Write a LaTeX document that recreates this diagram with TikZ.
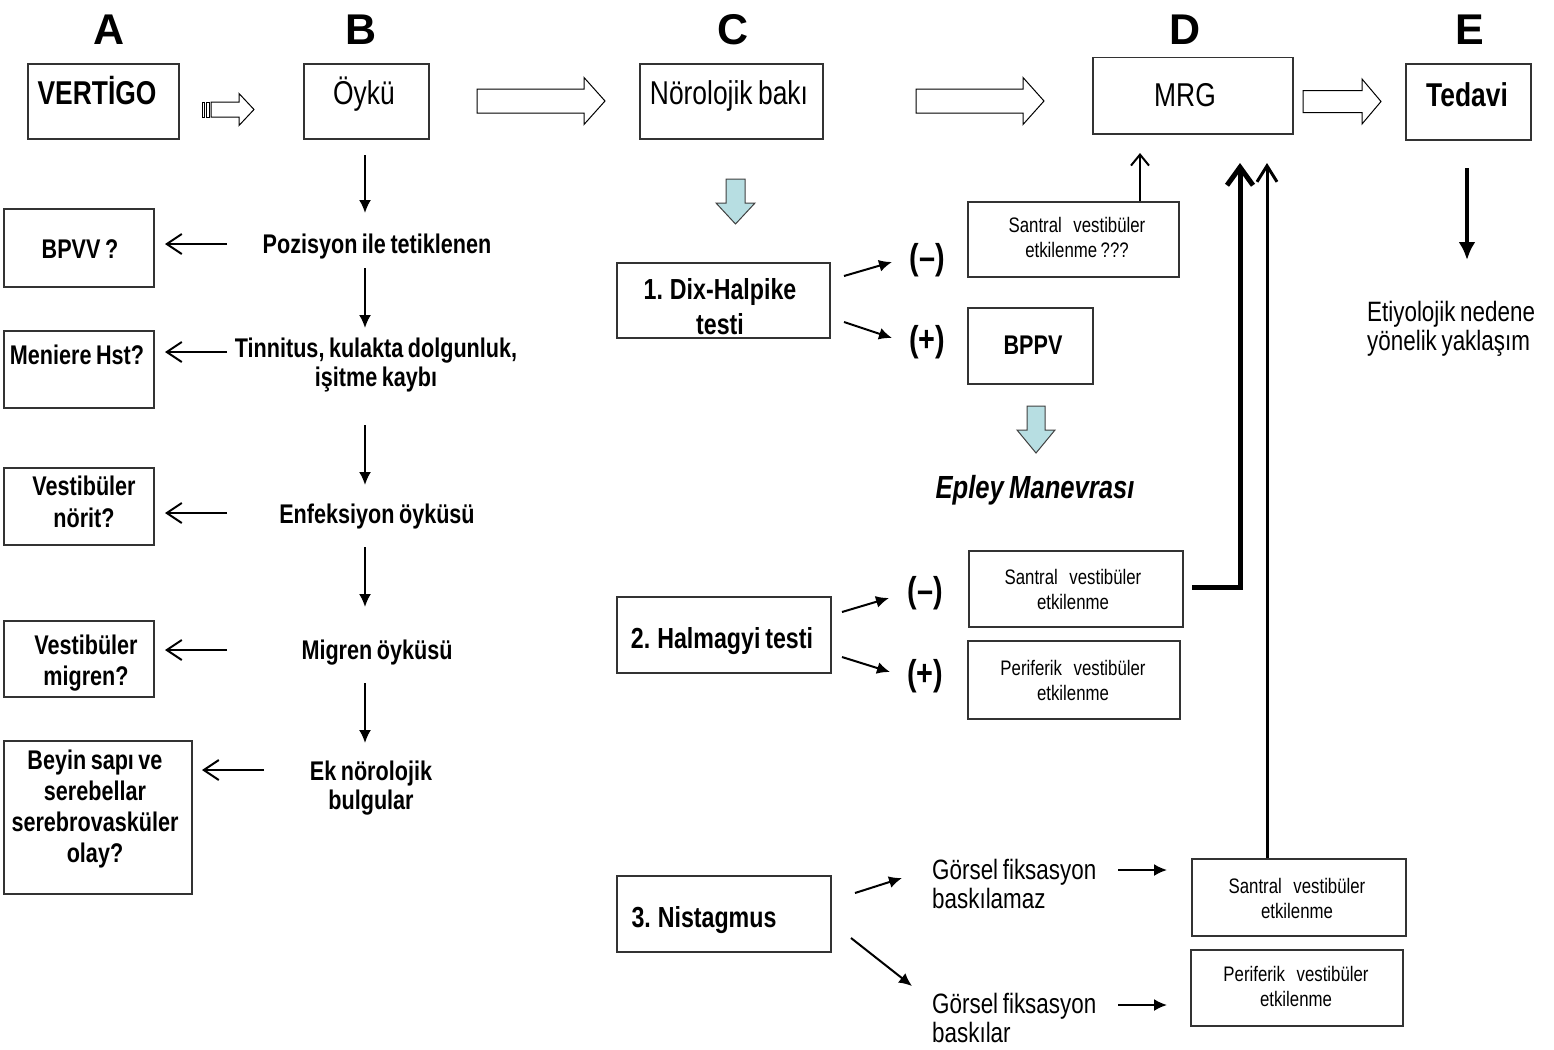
\documentclass[tikz,border=0pt]{standalone}
\usepackage{fontspec}
\setmainfont{Liberation Sans}[FakeStretch=0.8,WordSpace=0.75]
\newfontfamily\myWide{Liberation Sans}
\usetikzlibrary{arrows.meta}
\definecolor{lblue}{HTML}{B7DEE2}
\newcommand\myLet{\myWide\bfseries\fontsize{43}{48}\selectfont}
\newcommand\myTop{\fontsize{33}{38}\selectfont}
\newcommand\myTopB{\bfseries\fontsize{33}{38}\selectfont}
\newcommand\myB{\bfseries\fontsize{27}{31}\selectfont}
\newcommand\myC{\bfseries\fontsize{29}{35}\selectfont}
\newcommand\myS{\fontsize{21}{25}\selectfont}
\newcommand\myG{\fontsize{28}{29.5}\selectfont}
\newcommand\myEp{\bfseries\itshape\fontsize{32}{36}\selectfont}
\newcommand\myPM{\bfseries\fontsize{36}{40}\selectfont}
\newcommand\myGap{\hspace{0.55em}}
\newcommand\hblk[6]{\draw[blk] (#1,#4-#5) -- (#2,#4-#5) -- (#2,#4-#6) -- (#3,#4) -- (#2,#4+#6) -- (#2,#4+#5) -- (#1,#4+#5) -- cycle;}
\newcommand\vblk[6]{\draw[bblk] (#1-#5,#2) -- (#1+#5,#2) -- (#1+#5,#3) -- (#1+#6,#3) -- (#1,#4) -- (#1-#6,#3) -- (#1-#5,#3) -- cycle;}
\begin{document}
\begin{tikzpicture}[x=1pt,y=-1pt,
  box/.style={draw=black!80,line width=1.5pt,inner sep=0pt,anchor=north west},
  tLet/.style={font=\myLet,inner sep=0pt,text height=32.3pt,text depth=1.7pt},
  tTop/.style={font=\myTop,inner sep=0pt,text height=24.75pt,text depth=1.3pt},
  tTopB/.style={font=\myTopB,inner sep=0pt,text height=24.75pt,text depth=1.3pt},
  tB/.style={font=\myB,inner sep=0pt,text height=20.25pt,text depth=1.1pt},
  tC/.style={font=\myC,inner sep=0pt,text height=21.75pt,text depth=1.2pt},
  tPM/.style={font=\myPM,inner sep=0pt,text height=27pt,text depth=1.4pt},
  tEp/.style={font=\myEp,inner sep=0pt,text height=24pt,text depth=1.3pt},
  multi/.style={align=center,inner sep=0pt},
  blk/.style={draw=black,line width=1pt,fill=white},
  bblk/.style={draw=black!75,line width=1pt,fill=lblue},
  arr/.style={line width=2pt,-{Latex[length=13pt,width=12pt]}},
  barb/.style={line width=2pt,-{Straight Barb[length=15pt,width=20pt]}}
]
\fill[white] (0,0) rectangle (1554,1049);
\useasboundingbox (0,0) rectangle (1554,1049);

% column letters
\node[tLet] (la) at (109,29) {A};
\node[tLet] (lb) at (361,29) {B};
\node[tLet] (lc) at (733,29) {C};
\node[tLet] (ld) at (1185,29) {D};
\node[tLet] (le) at (1470,29) {E};

% top row boxes
\node[box,minimum width=151pt,minimum height=75pt] (vert) at (27,63) {};
\node[tTopB] (vertt) at (97,93) {VERTİGO};
\node[box,minimum width=125pt,minimum height=75pt] (oyku) at (303,63) {};
\node[tTop] (oykut) at (364,93) {Öykü};
\node[box,minimum width=183pt,minimum height=75pt] (norb) at (639,63) {};
\node[tTop] (norbt) at (729,93) {Nörolojik bakı};
\node[box,minimum width=200pt,minimum height=76pt] (mrg) at (1092,57) {};
\node[tTop] (mrgt) at (1185,95) {MRG};
\node[box,minimum width=125pt,minimum height=76pt] (ted) at (1405,63) {};
\node[tTopB] (tedt) at (1467,95) {Tedavi};

% block arrows on top row
\draw[blk] (202,102) rectangle (204,117);
\draw[blk] (206,102) rectangle (209,117);
\hblk{211}{239}{254}{109.5}{7.5}{16}
\hblk{477}{584}{605}{101}{12}{23.5}
\hblk{916}{1023}{1044}{101}{12}{23.5}
\hblk{1303}{1362}{1381}{101.5}{11}{22.5}

% column B
\node[tB] (poz) at (377,244) {Pozisyon ile tetiklenen};
\node[multi,font=\myB] (tin) at (376,365) {Tinnitus, kulakta dolgunluk,\\[-2pt] işitme kaybı};
\node[tB] (enf) at (377,514) {Enfeksiyon öyküsü};
\node[tB] (migo) at (377,650) {Migren öyküsü};
\node[multi,font=\myB] (ek) at (371,788) {Ek nörolojik\\[-2pt] bulgular};

\coordinate (a1s) at (365,155); \coordinate (a1e) at (365,213);
\coordinate (a2s) at (365,268); \coordinate (a2e) at (365,328);
\coordinate (a3s) at (365,425); \coordinate (a3e) at (365,485);
\coordinate (a4s) at (365,547); \coordinate (a4e) at (365,607);
\coordinate (a5s) at (365,683); \coordinate (a5e) at (365,743);
\draw[arr] (a1s) -- (a1e);
\draw[arr] (a2s) -- (a2e);
\draw[arr] (a3s) -- (a3e);
\draw[arr] (a4s) -- (a4e);
\draw[arr] (a5s) -- (a5e);

% column A
\node[box,minimum width=150pt,minimum height=78pt] (bpvv) at (3,208) {};
\node[tB] (bpvvt) at (80,249) {BPVV ?};
\node[box,minimum width=150pt,minimum height=77pt] (men) at (3,330) {};
\node[tB] (ment) at (77,355) {Meniere Hst?};
\node[box,minimum width=150pt,minimum height=77pt] (nor) at (3,467) {};
\node[multi,font=\myB] (nort) at (84,502) {Vestibüler\\[1pt] nörit?};
\node[box,minimum width=150pt,minimum height=76pt] (mig) at (3,620) {};
\node[multi,font=\myB] (migt) at (86,663) {Vestibüler\\ migren?};
\node[box,minimum width=188pt,minimum height=153pt] (bey) at (3,740) {};
\node[multi,font=\myB] (beyt) at (95,809) {Beyin sapı ve\\ serebellar\\ serebrovasküler\\ olay?};

\coordinate (b1s) at (227,244); \coordinate (b1e) at (165,244);
\coordinate (b2s) at (227,352); \coordinate (b2e) at (165,352);
\coordinate (b3s) at (227,513); \coordinate (b3e) at (165,513);
\coordinate (b4s) at (227,650); \coordinate (b4e) at (165,650);
\coordinate (b5s) at (264,770); \coordinate (b5e) at (202,770);
\draw[barb] (b1s) -- (b1e);
\draw[barb] (b2s) -- (b2e);
\draw[barb] (b3s) -- (b3e);
\draw[barb] (b4s) -- (b4e);
\draw[barb] (b5s) -- (b5e);

% column C
\vblk{735.5}{179}{203}{224}{9.5}{19.5}
\node[box,minimum width=213pt,minimum height=75pt] (dix) at (616,262) {};
\node[multi,font=\myC] (dixt) at (720,307) {1. Dix-Halpike\\ testi};
\node[box,minimum width=214pt,minimum height=76pt] (hal) at (616,596) {};
\node[tC] (halt) at (722,638) {2. Halmagyi testi};
\node[box,minimum width=214pt,minimum height=76pt] (nis) at (616,875) {};
\node[tC] (nist) at (704,917) {3. Nistagmus};

\node[tPM] (m1) at (927,257) {(–)};
\node[tPM] (p1) at (927,339) {(+)};
\node[tPM] (m2) at (925,590) {(–)};
\node[tPM] (p2) at (925,673) {(+)};

\coordinate (c1s) at (844,276); \coordinate (c1e) at (892,262);
\coordinate (c2s) at (844,322); \coordinate (c2e) at (892,338);
\coordinate (c3s) at (842,612); \coordinate (c3e) at (889,598);
\coordinate (c4s) at (842,657); \coordinate (c4e) at (890,672);
\coordinate (c5s) at (855,893); \coordinate (c5e) at (902,878);
\coordinate (c6s) at (851,938); \coordinate (c6e) at (912,986);
\draw[arr] (c1s) -- (c1e);
\draw[arr] (c2s) -- (c2e);
\draw[arr] (c3s) -- (c3e);
\draw[arr] (c4s) -- (c4e);
\draw[arr] (c5s) -- (c5e);
\draw[arr] (c6s) -- (c6e);

% column D
\node[box,minimum width=211pt,minimum height=75pt] (sq) at (967,201) {};
\node[multi,font=\myS] (sqt) at (1077,237) {Santral\myGap vestibüler\\ etkilenme ???};
\node[box,minimum width=125pt,minimum height=76pt] (bppv) at (967,307) {};
\node[tB] (bppvt) at (1033,345) {BPPV};
\vblk{1036}{406}{430}{453}{9}{19}
\node[tEp] (ep) at (1035,487) {Epley Manevrası};

\node[box,minimum width=214pt,minimum height=76pt] (sv2) at (968,550) {};
\node[multi,font=\myS] (sv2t) at (1073,589) {Santral\myGap vestibüler\\ etkilenme};
\node[box,minimum width=212pt,minimum height=78pt] (pv2) at (967,640) {};
\node[multi,font=\myS] (pv2t) at (1073,680) {Periferik\myGap vestibüler\\ etkilenme};

\node[multi,font=\myG,align=left,anchor=west] (g1) at (932,884) {Görsel fiksasyon\\ baskılamaz};
\node[multi,font=\myG,align=left,anchor=west] (g2) at (932,1018) {Görsel fiksasyon\\ baskılar};
\coordinate (d1s) at (1118,870); \coordinate (d1e) at (1167,870);
\coordinate (d2s) at (1118,1005); \coordinate (d2e) at (1167,1005);
\draw[arr] (d1s) -- (d1e);
\draw[arr] (d2s) -- (d2e);

\node[box,minimum width=214pt,minimum height=77pt] (sv3) at (1191,858) {};
\node[multi,font=\myS] (sv3t) at (1297,898) {Santral\myGap vestibüler\\ etkilenme};
\node[box,minimum width=212pt,minimum height=76pt] (pv3) at (1190,949) {};
\node[multi,font=\myS] (pv3t) at (1296,986) {Periferik\myGap vestibüler\\ etkilenme};

% arrows to MRG
\coordinate (u1e) at (1140,153);
\draw[line width=2pt,-{Straight Barb[length=11pt,width=18pt]}] (sq.north -| u1e) -- (u1e);
\coordinate (u2a) at (1192,587); \coordinate (u2b) at (1240,587); \coordinate (u2e) at (1240,163);
\draw[line width=5pt,-{Straight Barb[length=18pt,width=26pt]}] (u2a) -- (u2b) -- (u2e);
\coordinate (u3e) at (1267,163);
\draw[line width=3pt,-{Straight Barb[length=16pt,width=20pt]}] (sv3.north -| u3e) -- (u3e);

% column E
\coordinate (e1s) at (1467,168); \coordinate (e1e) at (1467,260);
\draw[line width=4pt,-{Latex[length=18pt,width=17pt]}] (e1s) -- (e1e);
\node[multi,font=\myG,align=left,anchor=west] (et) at (1367,329) {Etiyolojik nedene\\ yönelik yaklaşım};
\end{tikzpicture}
\end{document}
